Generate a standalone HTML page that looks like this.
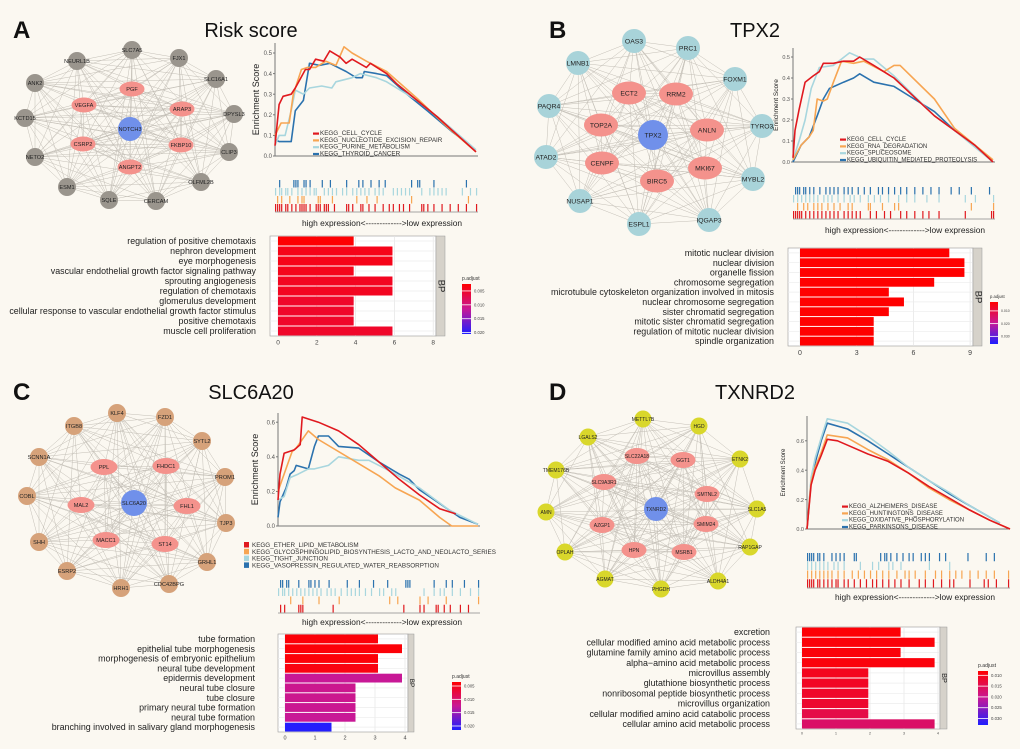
<!DOCTYPE html>
<html><head><meta charset="utf-8"><style>
html,body{margin:0;padding:0;background:#fbf8f1;}
svg{display:block;font-family:"Liberation Sans",sans-serif;}
</style></head><body>
<svg id="fig" width="1020" height="749" viewBox="0 0 1020 749" xmlns="http://www.w3.org/2000/svg">
<rect width="1020" height="749" fill="#fbf8f1"/>
</svg>
<script>
// ---------- DATA ----------
const aTerms=["regulation of positive chemotaxis","nephron development","eye morphogenesis","vascular endothelial growth factor signaling pathway","sprouting angiogenesis","regulation of chemotaxis","glomerulus development","cellular response to vascular endothelial growth factor stimulus","positive chemotaxis","muscle cell proliferation"];
const aCounts=[3.9,5.9,5.9,3.9,5.9,5.9,3.9,3.9,3.9,5.9];
const aPadj=[0.0026,0.004,0.004,0.0042,0.0045,0.0045,0.005,0.005,0.005,0.005];
const bTerms=["mitotic nuclear division","nuclear division","organelle fission","chromosome segregation","microtubule cytoskeleton organization involved in mitosis","nuclear chromosome segregation","sister chromatid segregation","mitotic sister chromatid segregation","regulation of mitotic nuclear division","spindle organization"];
const bCounts=[7.9,8.7,8.7,7.1,4.7,5.5,4.7,3.9,3.9,3.9];
const bPadj=[0.003,0.003,0.003,0.003,0.003,0.003,0.003,0.003,0.003,0.003];
const cTerms=["tube formation","epithelial tube morphogenesis","morphogenesis of embryonic epithelium","neural tube development","epidermis development","neural tube closure","tube closure","primary neural tube formation","neural tube formation","branching involved in salivary gland morphogenesis"];
const cCounts=[3.1,3.9,3.1,3.1,3.9,2.35,2.35,2.35,2.35,1.55];
const cPadj=[0.004,0.004,0.004,0.0045,0.0125,0.012,0.012,0.0122,0.0125,0.0212];
const dTerms=["excretion","cellular modified amino acid metabolic process","glutamine family amino acid metabolic process","alpha\u2212amino acid metabolic process","microvillus assembly","glutathione biosynthetic process","nonribosomal peptide biosynthetic process","microvillus organization","cellular modified amino acid catabolic process","cellular amino acid metabolic process"];
const dCounts=[2.9,3.9,2.9,3.9,1.95,1.95,1.95,1.95,1.95,3.9];
const dPadj=[0.0085,0.0088,0.0088,0.009,0.0105,0.011,0.0115,0.012,0.014,0.0165];

const aNames=["KEGG_CELL_CYCLE","KEGG_NUCLEOTIDE_EXCISION_REPAIR","KEGG_PURINE_METABOLISM","KEGG_THYROID_CANCER"];
const bNames=["KEGG_CELL_CYCLE","KEGG_RNA_DEGRADATION","KEGG_SPLICEOSOME","KEGG_UBIQUITIN_MEDIATED_PROTEOLYSIS"];
const cNames=["KEGG_ETHER_LIPID_METABOLISM","KEGG_GLYCOSPHINGOLIPID_BIOSYNTHESIS_LACTO_AND_NEOLACTO_SERIES","KEGG_TIGHT_JUNCTION","KEGG_VASOPRESSIN_REGULATED_WATER_REABSORPTION"];
const dNames=["KEGG_ALZHEIMERS_DISEASE","KEGG_HUNTINGTONS_DISEASE","KEGG_OXIDATIVE_PHOSPHORYLATION","KEGG_PARKINSONS_DISEASE"];

const gA0=[[0,0.05],[0.02,0.25],[0.04,0.29],[0.08,0.3],[0.1,0.33],[0.15,0.42],[0.17,0.42],[0.2,0.47],[0.24,0.46],[0.27,0.51],[0.32,0.48],[0.35,0.45],[0.38,0.47],[0.45,0.43],[0.47,0.45],[0.55,0.4],[0.6,0.35],[0.7,0.27],[0.8,0.19],[0.9,0.1],[0.99,0.02]];
const gA1=[[0,0.1],[0.03,0.16],[0.07,0.16],[0.09,0.3],[0.13,0.42],[0.16,0.43],[0.2,0.43],[0.25,0.46],[0.3,0.44],[0.34,0.53],[0.38,0.5],[0.45,0.46],[0.55,0.41],[0.7,0.28],[0.85,0.14],[0.99,0.02]];
const gA2=[[0,0.05],[0.02,0.1],[0.05,0.1],[0.08,0.22],[0.1,0.32],[0.14,0.3],[0.17,0.33],[0.23,0.34],[0.28,0.33],[0.3,0.36],[0.38,0.38],[0.42,0.4],[0.5,0.38],[0.55,0.36],[0.7,0.27],[0.85,0.15],[0.99,0.03]];
const gA3=[[0,0.08],[0.02,0.07],[0.08,0.07],[0.1,0.22],[0.14,0.27],[0.17,0.45],[0.22,0.44],[0.27,0.45],[0.35,0.41],[0.4,0.38],[0.43,0.38],[0.44,0.41],[0.5,0.4],[0.55,0.39],[0.65,0.3],[0.75,0.22],[0.87,0.12],[0.95,0.06]];
const gB0=[[0,0.02],[0.01,0.15],[0.03,0.25],[0.06,0.38],[0.1,0.41],[0.13,0.43],[0.15,0.47],[0.2,0.47],[0.25,0.48],[0.3,0.48],[0.33,0.5],[0.4,0.46],[0.5,0.4],[0.7,0.22],[0.8,0.15],[0.9,0.08],[0.99,0]];
const gB1=[[0,0.01],[0.04,0.08],[0.08,0.12],[0.1,0.15],[0.12,0.3],[0.15,0.29],[0.17,0.3],[0.2,0.38],[0.24,0.48],[0.3,0.47],[0.35,0.48],[0.45,0.43],[0.5,0.46],[0.53,0.46],[0.7,0.3],[0.8,0.16],[0.99,0.01]];
const gB2=[[0,0.01],[0.03,0.1],[0.06,0.2],[0.09,0.35],[0.13,0.45],[0.2,0.46],[0.28,0.52],[0.35,0.49],[0.4,0.49],[0.5,0.41],[0.7,0.22],[0.8,0.15],[0.99,0]];
const gB3=[[0,0],[0.04,0.08],[0.08,0.12],[0.12,0.22],[0.15,0.3],[0.18,0.35],[0.25,0.38],[0.3,0.4],[0.33,0.42],[0.4,0.38],[0.5,0.36],[0.6,0.3],[0.7,0.24],[0.8,0.15],[0.9,0.08],[0.99,0]];
const gC0=[[0,0.15],[0.01,0.3],[0.03,0.42],[0.08,0.44],[0.11,0.47],[0.12,0.63],[0.2,0.6],[0.3,0.55],[0.4,0.47],[0.5,0.37],[0.6,0.27],[0.7,0.18],[0.8,0.1],[0.88,0.07]];
const gC1=[[0,0.2],[0.03,0.3],[0.07,0.43],[0.09,0.45],[0.15,0.55],[0.2,0.5],[0.4,0.36],[0.5,0.29],[0.58,0.22],[0.7,0.15],[0.8,0.05],[0.86,0],[0.99,0]];
const gC2=[[0,0.15],[0.03,0.17],[0.06,0.28],[0.1,0.3],[0.15,0.33],[0.18,0.33],[0.25,0.35],[0.3,0.4],[0.4,0.38],[0.45,0.38],[0.55,0.32],[0.7,0.22],[0.85,0.09],[0.99,0.01]];
const gC3=[[0,0.05],[0.01,0.14],[0.04,0.22],[0.06,0.3],[0.08,0.32],[0.09,0.35],[0.15,0.33],[0.18,0.46],[0.2,0.52],[0.25,0.52],[0.3,0.46],[0.4,0.45],[0.5,0.37],[0.6,0.3],[0.65,0.27],[0.7,0.21],[0.8,0.13],[0.9,0.05],[0.99,0.01]];
const gD0=[[0,0],[0.02,0.3],[0.04,0.4],[0.07,0.5],[0.1,0.61],[0.15,0.6],[0.2,0.57],[0.3,0.51],[0.4,0.46],[0.5,0.38],[0.6,0.29],[0.7,0.21],[0.8,0.13],[0.9,0.06],[1,0]];
const gD1=[[0,0],[0.02,0.32],[0.04,0.42],[0.07,0.52],[0.1,0.64],[0.2,0.62],[0.3,0.54],[0.4,0.47],[0.5,0.38],[0.6,0.28],[0.7,0.2],[0.8,0.13],[0.9,0.06],[1,0]];
const gD2=[[0,0],[0.02,0.35],[0.04,0.48],[0.07,0.62],[0.1,0.75],[0.2,0.72],[0.3,0.63],[0.4,0.53],[0.5,0.42],[0.6,0.33],[0.7,0.25],[0.8,0.16],[0.9,0.08],[0.95,0.04]];
const gD3=[[0,0],[0.02,0.33],[0.04,0.45],[0.07,0.6],[0.1,0.72],[0.2,0.68],[0.3,0.6],[0.4,0.51],[0.5,0.42],[0.6,0.33],[0.7,0.24],[0.8,0.16],[0.9,0.08],[0.95,0.04]];

const rA=[[0,0.01,0.02,0.03,0.05,0.06,0.08,0.1,0.12,0.13,0.14,0.15,0.17,0.2,0.21,0.22,0.24,0.25,0.26,0.29,0.35,0.36,0.38,0.42,0.43,0.46,0.49,0.53,0.56,0.58,0.61,0.63,0.66,0.72,0.73,0.75,0.78,0.82,0.86,0.9,0.94,0.99],
[0.01,0.03,0.07,0.11,0.13,0.14,0.21,0.22,0.28,0.4,0.45,0.5,0.67,0.95],
[0,0.02,0.03,0.05,0.06,0.08,0.11,0.13,0.15,0.17,0.19,0.2,0.24,0.26,0.28,0.3,0.33,0.35,0.38,0.4,0.42,0.44,0.46,0.49,0.51,0.53,0.58,0.6,0.62,0.64,0.66,0.72,0.76,0.78,0.8,0.82,0.84,0.92,0.96,0.99],
[0.02,0.09,0.1,0.11,0.14,0.15,0.17,0.23,0.27,0.35,0.41,0.43,0.47,0.51,0.54,0.67,0.7,0.71,0.78,0.94]];
const rB=[[0,0.01,0.02,0.03,0.04,0.06,0.08,0.1,0.12,0.14,0.16,0.18,0.2,0.22,0.25,0.27,0.29,0.31,0.33,0.38,0.41,0.45,0.48,0.53,0.56,0.6,0.64,0.67,0.72,0.85,0.98,0.99],
[0.02,0.05,0.07,0.1,0.12,0.14,0.17,0.2,0.23,0.27,0.29,0.37,0.38,0.44,0.5,0.52,0.88,0.99],
[0,0.02,0.04,0.06,0.08,0.1,0.12,0.15,0.17,0.19,0.22,0.25,0.28,0.3,0.33,0.37,0.4,0.43,0.47,0.52,0.56,0.6,0.66,0.72,0.85,0.9,0.99],
[0.01,0.02,0.03,0.05,0.06,0.08,0.1,0.13,0.16,0.18,0.2,0.22,0.25,0.27,0.29,0.32,0.35,0.38,0.42,0.44,0.47,0.5,0.53,0.56,0.6,0.64,0.68,0.72,0.78,0.82,0.88,0.97]];
const rC=[[0.01,0.03,0.1,0.11,0.12,0.27,0.62,0.7,0.72,0.78,0.79,0.82,0.85,0.9,0.94],
[0.06,0.12,0.2,0.3,0.55,0.59,0.7,0.74,0.83,0.99],
[0,0.02,0.03,0.05,0.07,0.09,0.11,0.13,0.15,0.17,0.19,0.21,0.24,0.26,0.28,0.31,0.34,0.36,0.38,0.4,0.43,0.46,0.5,0.52,0.56,0.58,0.72,0.77,0.8,0.82,0.86,0.9,0.95,0.99],
[0.01,0.02,0.04,0.05,0.1,0.15,0.16,0.18,0.2,0.25,0.34,0.4,0.47,0.54,0.63,0.64,0.65,0.77,0.83,0.86,0.92,0.99]];
const rD=[[0,0.01,0.02,0.03,0.05,0.06,0.08,0.1,0.12,0.14,0.15,0.18,0.2,0.23,0.26,0.29,0.32,0.34,0.37,0.4,0.43,0.46,0.5,0.55,0.58,0.62,0.66,0.7,0.72,0.8,0.87,0.89,0.93,0.99],
[0,0.02,0.04,0.06,0.08,0.1,0.12,0.15,0.18,0.22,0.25,0.28,0.31,0.34,0.37,0.4,0.44,0.48,0.5,0.53,0.58,0.63,0.66,0.7,0.73,0.76,0.8,0.84,0.88,0.92,0.99],
[0,0.02,0.04,0.06,0.08,0.1,0.13,0.15,0.18,0.26,0.32,0.35,0.4,0.42,0.46,0.6,0.7],
[0,0.01,0.02,0.03,0.05,0.06,0.08,0.12,0.14,0.16,0.18,0.23,0.24,0.36,0.38,0.39,0.41,0.44,0.47,0.5,0.52,0.56,0.58,0.6,0.65,0.68,0.79,0.88,0.92]];

// ---------- DRAWING ----------
const NS="http://www.w3.org/2000/svg";
const svg=document.getElementById('fig');
const COLS=["#e0191f","#f7a552","#a8d6de","#2b72ae"];
function mk(tag,parent){const e=document.createElementNS(NS,tag);(parent||svg).appendChild(e);return e;}
function set(e,o){for(const k in o)e.setAttribute(k,o[k]);return e;}
function txt(p,x,y,s,size,anchor,extra){const t=mk('text',p);set(t,{x:x,y:y,'font-size':size,'text-anchor':anchor||'start',fill:'#222'});if(extra)set(t,extra);t.textContent=s;return t;}
function lerp(a,b,t){return Math.round(a+(b-a)*t);}
function pcol(p,lo,hi){let t=Math.max(0,Math.min(1,(p-lo)/(hi-lo)));
  const s=[[255,0,0],[200,24,150],[30,30,255]];let i=t<0.5?0:1;let u=t<0.5?t*2:(t-0.5)*2;
  return `rgb(${lerp(s[i][0],s[i+1][0],u)},${lerp(s[i][1],s[i+1][1],u)},${lerp(s[i][2],s[i+1][2],u)})`;}

function network(id,nodes,center,fill,ls){
  const g=mk('g');
  
  
  const eg=mk('g',g);set(eg,{stroke:'#b0aba2','stroke-width':0.5,opacity:0.75});
  for(let i=0;i<nodes.length;i++)for(let j=i+1;j<nodes.length;j++){
    if((i*7+j*3)%5===0)continue;
    const l=mk('line',eg);set(l,{x1:nodes[i][1],y1:nodes[i][2],x2:nodes[j][1],y2:nodes[j][2]});}
  nodes.forEach(n=>{
    const ng=mk('g',g);
    
    
    let sh;
    if(n[3]==='c'){sh=mk('circle',ng);set(sh,{cx:n[1],cy:n[2],r:center[0],fill:'#7090ea'});}
    else if(n[3]==='p'){sh=mk('ellipse',ng);set(sh,{cx:n[1],cy:n[2],rx:center[1],ry:center[2],fill:'#f4928c'});}
    else{sh=mk('circle',ng);set(sh,{cx:n[1],cy:n[2],r:center[3],fill:fill});}
    txt(ng,n[1],n[2]+ls*0.36,n[0],ls,'middle',{fill:'#222'});
  });
}

function gsea(id,cfg,series,names,rug){
  const g=mk('g');
  
  
  const X=f=>cfg.x0+f*(cfg.x1-cfg.x0);
  const Y=v=>cfg.yz-v*cfg.sc;
  const ax=mk('path',g);set(ax,{d:`M${cfg.x0},${cfg.top}V${cfg.yz}H${cfg.x1}`,stroke:'#777','stroke-width':1,fill:'none'});
  cfg.ticks.forEach(v=>{
    const tl=mk('line',g);set(tl,{x1:cfg.x0-2,x2:cfg.x0,y1:Y(v),y2:Y(v),stroke:'#777'});
    const t=txt(g,cfg.x0-3,Y(v)+2.2,v.toFixed(1),cfg.tf,'end',{fill:'#555'});
    
    
  });
  const yl=txt(g,0,0,'Enrichment Score',cfg.lf,'middle',{transform:`translate(${cfg.lx},${(cfg.top+cfg.yz)/2}) rotate(-90)`});
  
  
  [3,2,1,0].forEach(k=>{
    const p=mk('path',g);
    
    
    set(p,{d:series[k].map((q,i)=>(i?'L':'M')+X(q[0]).toFixed(1)+','+Y(q[1]).toFixed(1)).join(''),stroke:COLS[k],'stroke-width':1.6,fill:'none','stroke-linejoin':'round'});
  });
  names.forEach((n,k)=>{
    const lg=mk('g',g);
    
    
    const y=cfg.ly+k*cfg.ls;
    const r=mk('rect',lg);
    if(cfg.sq)set(r,{x:cfg.lgx,y:y-5,width:5,height:5.5,fill:COLS[k]});
    else set(r,{x:cfg.lgx,y:y-2.5,width:6,height:2.2,fill:COLS[k]});
    txt(lg,cfg.lgx+(cfg.sq?8:7),y,n,cfg.lgf,'start',{fill:'#333'});
  });
  const rg=mk('g');
  
  
  const rh=(cfg.rb-cfg.rt)/4;
  [3,2,1,0].forEach((k,row)=>{
    rug[k].forEach(f=>{const l=mk('rect',rg);set(l,{x:X(f),y:cfg.rt+row*rh,width:1.2,height:rh-0.5,fill:COLS[k]});});
  });
  const bl=mk('line',rg);set(bl,{x1:cfg.x0,x2:cfg.x1,y1:cfg.rb,y2:cfg.rb,stroke:'#888','stroke-width':0.8});
  const ex=txt(g,cfg.ex,cfg.ey,'high expression<------------->low expression',cfg.ef,'middle',{fill:'#222'});
  
  
}

function bars(id,c,terms,counts,padj){
  const g=mk('g');
  
  
  const X=v=>c.x0+v*c.sc;
  const bg=mk('rect',g);set(bg,{x:c.l,y:c.t,width:c.r-c.l,height:c.b-c.t,fill:'#fff',stroke:'#999','stroke-width':0.6});
  c.ticks.forEach(v=>{const l=mk('line',g);set(l,{x1:X(v),x2:X(v),y1:c.t,y2:c.b,stroke:'#e4e4e4','stroke-width':0.7});
    const t=txt(g,X(v),c.b+c.tf+2,String(v),c.tf,'middle',{fill:'#444'});
    
    });
  const n=terms.length,step=(c.b-c.t)/n;
  terms.forEach((s,i)=>{
    const cy=c.t+step*(i+0.5);
    const gl=mk('line',g);set(gl,{x1:c.l,x2:c.r,y1:cy,y2:cy,stroke:'#ececec','stroke-width':0.7});
    const r=mk('rect',g);
    
    
    set(r,{x:X(0),y:cy-step*0.45,width:Math.max(0,X(counts[i])-X(0)),height:step*0.9,fill:pcol(padj[i],c.pl,c.ph)});
    const t=txt(g,c.lr,cy+c.f*0.35,s,c.f,'end',{fill:'#222'});
    
    
  });
  const st=mk('rect',g);set(st,{x:c.r,y:c.t,width:c.sw,height:c.b-c.t,fill:'#d6d2ca',stroke:'#999','stroke-width':0.5});
  
  
  txt(g,0,0,'BP',c.sw*1.05,'middle',{transform:`translate(${c.r+c.sw*0.3},${(c.t+c.b)/2}) rotate(90)`});
  const lg=mk('g');
  
  
  txt(lg,c.cx,c.cy-4,'p.adjust',c.cf*1.2,'start',{fill:'#333'});
  const gid='grad'+id;
  const defs=mk('defs',lg);const gr=mk('linearGradient',defs);set(gr,{id:gid,x1:0,y1:0,x2:0,y2:1});
  [0,0.5,1].forEach(o=>{const s=mk('stop',gr);set(s,{offset:o,'stop-color':pcol(c.pl+o*(c.ph-c.pl),c.pl,c.ph)});});
  const cb=mk('rect',lg);set(cb,{x:c.cx,y:c.cy,width:c.cw,height:c.ch,fill:`url(#${gid})`});
  c.lt.forEach(v=>{const y=c.cy+(v-c.pl)/(c.ph-c.pl)*c.ch;
    const l=mk('line',lg);set(l,{x1:c.cx,x2:c.cx+c.cw,y1:y,y2:y,stroke:'#fff','stroke-width':0.8});
    txt(lg,c.cx+c.cw+3,y+c.cf*0.35,v.toFixed(3),c.cf,'start',{fill:'#444'});});
}

function heading(letter,lx,ly,title,tx,ty){
  const a=txt(svg,lx,ly,letter,24,'start',{'font-weight':'bold',fill:'#111'});
  
  
  const t=txt(svg,tx,ty,title,20,'middle',{fill:'#111'});
  
  
}

heading('A',13,38,'Risk score',251,37);
network('a',[["SLC7A5",132,50],["FJX1",179,58],["NEURL1B",77,61],["SLC16A1",216,79],["ANK2",35,83],["DPYSL3",234,114],["KCTD15",25,118],["CLIP3",229,152],["NETO2",35,157],["OLFML2B",201,182],["ESM1",67,187],["CERCAM",156,201],["SQLE",109,200],
 ["PGF",132,89,'p'],["VEGFA",84,105,'p'],["ARAP3",182,109,'p'],["CSRP2",83,144,'p'],["FKBP10",181,145,'p'],["ANGPT2",130,167,'p'],["NOTCH3",130,129,'c']],[12,12.5,7.5,9],'#9a958d',5.6);
gsea('a',{x0:275,x1:478,yz:156,sc:206,top:43,ticks:[0,0.1,0.2,0.3,0.4,0.5],tf:6,lf:9,lx:259,lgx:313,ly:135,ls:6.8,lgf:6.3,rt:180,rb:212,ex:382,ey:226,ef:8.4},[gA0,gA1,gA2,gA3],aNames,rA);
bars('a',{l:270,r:436,t:236,b:336,x0:278,sc:19.4,ticks:[0,2,4,6,8],tf:6.5,f:8.9,lr:256,sw:9,pl:0.0025,ph:0.0205,cx:462,cy:284,cw:9,ch:50,cf:4.2,lt:[0.005,0.01,0.015,0.02]},aTerms,aCounts,aPadj);

heading('B',549,38,'TPX2',755,37);
network('b',[["OAS3",634,41],["PRC1",688,48],["LMNB1",578,63],["FOXM1",735,79],["PAQR4",549,106],["TYRO3",762,126],["ATAD2",546,157],["MYBL2",753,179],["NUSAP1",580,201],["IQGAP3",709,220],["ESPL1",639,224],
 ["ECT2",629,93,'p'],["RRM2",676,94,'p'],["TOP2A",601,125,'p'],["ANLN",707,130,'p'],["CENPF",602,163,'p'],["MKI67",705,168,'p'],["BIRC5",657,181,'p'],["TPX2",653,135,'c']],[15,17,11.5,12],'#a8d3d9',6.8);
gsea('b',{x0:793,x1:995,yz:162,sc:210,top:48,ticks:[0,0.1,0.2,0.3,0.4,0.5],tf:5.5,lf:6.5,lx:778,lgx:840,ly:141,ls:6.8,lgf:6,rt:187,rb:219,ex:905,ey:233,ef:8.4},[gB0,gB1,gB2,gB3],bNames,rB);
bars('b',{l:788,r:973,t:248,b:346,x0:800,sc:18.9,ticks:[0,3,6,9],tf:7,f:8.9,lr:774,sw:9,pl:0.003,ph:0.036,cx:990,cy:302,cw:8,ch:42,cf:3.5,lt:[0.01,0.02,0.03]},bTerms,bCounts,bPadj);

heading('C',13,400,'SLC6A20',251,399);
network('c',[["KLF4",117,413],["FZD1",165,417],["ITGB8",74,426],["SYTL2",202,441],["SCNN1A",39,457],["PROM1",225,477],["COBL",27,496],["TJP3",226,523],["SHH",39,542],["GRHL1",207,562],["ESRP2",67,571],["CDC42BPG",169,584],["HRH1",121,588],
 ["PPL",104,467,'p'],["FHDC1",166,466,'p'],["MAL2",81,505,'p'],["FHL1",187,506,'p'],["MACC1",106,540,'p'],["ST14",165,544,'p'],["SLC6A20",134,503,'c']],[13,13.5,8,9],'#d6a27a',5.6);
gsea('c',{x0:278,x1:480,yz:526,sc:173,top:413,ticks:[0,0.2,0.4,0.6],tf:6,lf:9,lx:258,lgx:244,ly:547,ls:6.8,lgf:6.3,sq:true,rt:580,rb:613,ex:382,ey:625,ef:8.4},[gC0,gC1,gC2,gC3],cNames,rC);
bars('c',{l:278,r:408,t:634,b:732,x0:285,sc:30,ticks:[0,1,2,3,4],tf:5.5,f:8.9,lr:255,sw:6,pl:0.0035,ph:0.0215,cx:452,cy:682,cw:9,ch:48,cf:4.2,lt:[0.005,0.01,0.015,0.02]},cTerms,cCounts,cPadj);

heading('D',549,400,'TXNRD2',755,399);
network('d',[["METTL7B",643,419],["HGD",699,426],["LGALS2",588,437],["ETNK2",740,459],["TMEM176B",556,470],["AMN",546,512],["SLC1A5",757,509],["OPLAH",565,552],["RAP1GAP",750,547],["AGMAT",605,579],["ALDH4A1",718,581],["PHGDH",661,589],
 ["SLC22A18",637,456,'p'],["GGT1",683,460,'p'],["SLC9A3R1",604,482,'p'],["SMTNL2",707,494,'p'],["AZGP1",602,525,'p'],["SMIM24",706,524,'p'],["HPN",634,550,'p'],["MSRB1",684,552,'p'],["TXNRD2",656,509,'c']],[12,12.5,8,8.5],'#d9d72b',5);
gsea('d',{x0:807,x1:1010,yz:529,sc:147,top:416,ticks:[0,0.2,0.4,0.6],tf:5.5,lf:6,lx:785,lgx:842,ly:508,ls:6.8,lgf:6,rt:553,rb:588,ex:915,ey:600,ef:8.4},[gD0,gD1,gD2,gD3],dNames,rD);
bars('d',{l:796,r:940,t:627,b:729,x0:802,sc:34,ticks:[0,1,2,3,4],tf:3.5,f:8.9,lr:770,sw:7,pl:0.008,ph:0.033,cx:978,cy:671,cw:10,ch:54,cf:4.3,lt:[0.01,0.015,0.02,0.025,0.03]},dTerms,dCounts,dPadj);
</script>
</body></html>
